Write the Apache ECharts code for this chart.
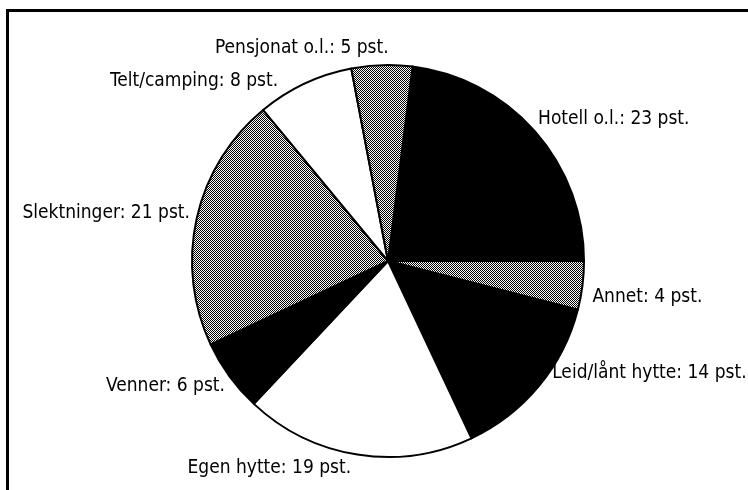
<!DOCTYPE html>
<html>
<head>
<meta charset="utf-8">
<script src="https://cdn.jsdelivr.net/npm/echarts@6/dist/echarts.min.js"></script>
<style>
  html, body { margin: 0; padding: 0; background: #fff; }
  #chart { width: 748px; height: 490px; }
</style>
</head>
<body>
<div id="chart"></div>
<script>
// kategorier og andeler (pst.), med klokka fra toppen
const categories = ['Hotell o.l.', 'Annet', 'Leid/lånt hytte', 'Egen hytte', 'Venner', 'Slektninger', 'Telt/camping', 'Pensjonat o.l.']
const shares = [23, 4, 14, 19, 6, 21, 8, 5]
// fyll: svart, raster, hvit
const fills = ['black', 'dots', 'black', 'white', 'black', 'dots', 'white', 'dots']
// små justeringer av etikettene [dx, dy]
const labelNudge = [[-8, -7], [-3, 10], [2, -18], [0, 6], [7, 5], [6, -3], [-18, 5], [12, -9]]

// rastermønster (sjakkbrett)
function makeDots () {
  const c = document.createElement('canvas')
  c.width = 2
  c.height = 2
  const ctx = c.getContext('2d')
  ctx.fillStyle = '#fff'
  ctx.fillRect(0, 0, 2, 2)
  ctx.fillStyle = '#000'
  ctx.fillRect(0, 0, 1, 1)
  ctx.fillRect(1, 1, 1, 1)
  return c
}
const dots = makeDots()
function fillColor (f) {
  if (f === 'dots') return { image: dots, repeat: 'repeat' }
  return f === 'black' ? '#000' : '#fff'
}

const chart = echarts.init(document.getElementById('chart'))
chart.setOption({
  animation: false,
  graphic: [
    { type: 'line', shape: { x1: 7, y1: 10.5, x2: 748, y2: 10.5 }, style: { stroke: '#000', lineWidth: 3 } },
    { type: 'line', shape: { x1: 7.5, y1: 9, x2: 7.5, y2: 490 }, style: { stroke: '#000', lineWidth: 3 } }
  ],
  series: [
    {
      type: 'pie',
      center: [388, 261],
      radius: 196,
      startAngle: 90 - 360 * 0.02,
      clockwise: true,
      avoidLabelOverlap: false,
      itemStyle: { borderColor: '#000', borderWidth: 2 },
      label: {
        show: true,
        position: 'outside',
        color: '#000',
        fontSize: 19,
        fontFamily: '"Liberation Sans Narrow", "DejaVu Sans Condensed", sans-serif',
        formatter: p => p.name + ': ' + p.value + ' pst.'
      },
      labelLine: { show: false, length: 8, length2: 0 },
      labelLayout: p => ({ dx: labelNudge[p.dataIndex][0], dy: labelNudge[p.dataIndex][1] }),
      emphasis: { disabled: true },
      data: categories.map((name, i) => ({
        name: name,
        value: shares[i],
        itemStyle: { color: fillColor(fills[i]) }
      }))
    }
  ]
})
</script>
</body>
</html>
